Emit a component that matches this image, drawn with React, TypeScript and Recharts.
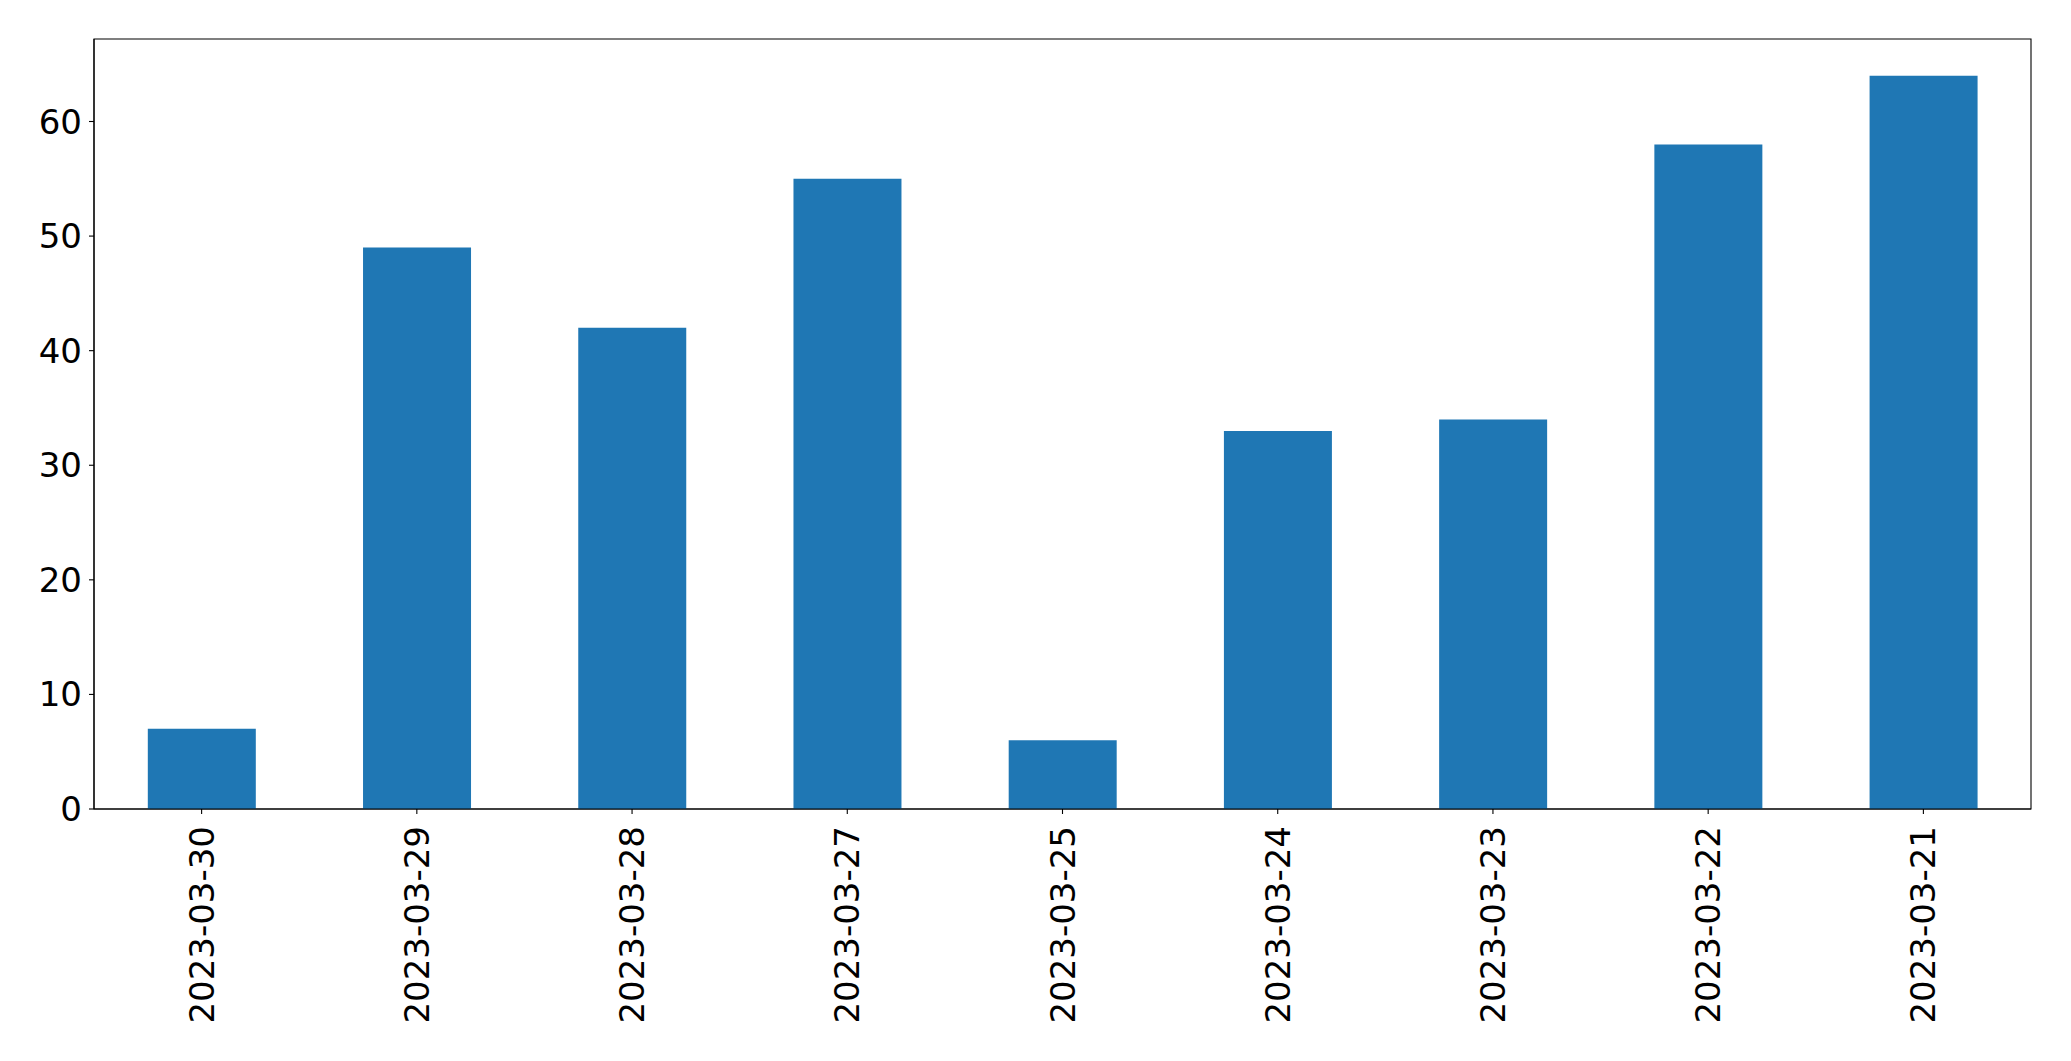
import { BarChart, Bar, XAxis, YAxis, ReferenceArea } from 'recharts';

// reference page has no margin around the figure
document.body.style.margin = '0';

const dates = [
  '2023-03-30',
  '2023-03-29',
  '2023-03-28',
  '2023-03-27',
  '2023-03-25',
  '2023-03-24',
  '2023-03-23',
  '2023-03-22',
  '2023-03-21',
];
const counts = [7, 49, 42, 55, 6, 33, 34, 58, 64];
const yTicks = [0, 10, 20, 30, 40, 50, 60];

const FONT = '"DejaVu Sans", sans-serif';

function DateTick({ x, y, payload }: any) {
  return (
    <text
      x={x}
      y={y}
      transform={`rotate(-90, ${x}, ${y})`}
      textAnchor="end"
      dominantBaseline="central"
      fontFamily={FONT}
      fontSize={34}
      fill="#000"
    >
      {payload.value}
    </text>
  );
}

export default function App() {
  const data = dates.map((d, i) => ({ date: d, count: counts[i] }));

  return (
    <div style={{ width: 2071, height: 1061, background: '#fff' }}>
      <BarChart
        width={2071}
        height={1061}
        data={data}
        margin={{ top: 39, right: 40, left: 0, bottom: 0 }}
        barCategoryGap="25%"
      >
        <XAxis
          dataKey="date"
          height={252}
          tick={<DateTick />}
          tickSize={5}
          tickMargin={12}
          interval={0}
          axisLine={{ stroke: '#000', strokeWidth: 1.1 }}
          tickLine={{ stroke: '#000', strokeWidth: 1.1 }}
        />
        <YAxis
          width={94}
          domain={[0, 67.2]}
          ticks={yTicks}
          tickSize={5}
          tickMargin={7}
          tick={{ fontFamily: FONT, fontSize: 34, fill: '#000' }}
          axisLine={{ stroke: '#000', strokeWidth: 1.1 }}
          tickLine={{ stroke: '#000', strokeWidth: 1.1 }}
        />
        <Bar dataKey="count" fill="#1f77b4" isAnimationActive={false} />
        {/* frame around the plot area */}
        <ReferenceArea
          y1={0}
          y2={67.2}
          fill="none"
          fillOpacity={0}
          stroke="#000"
          strokeWidth={1.1}
          ifOverflow="visible"
        />
      </BarChart>
    </div>
  );
}
